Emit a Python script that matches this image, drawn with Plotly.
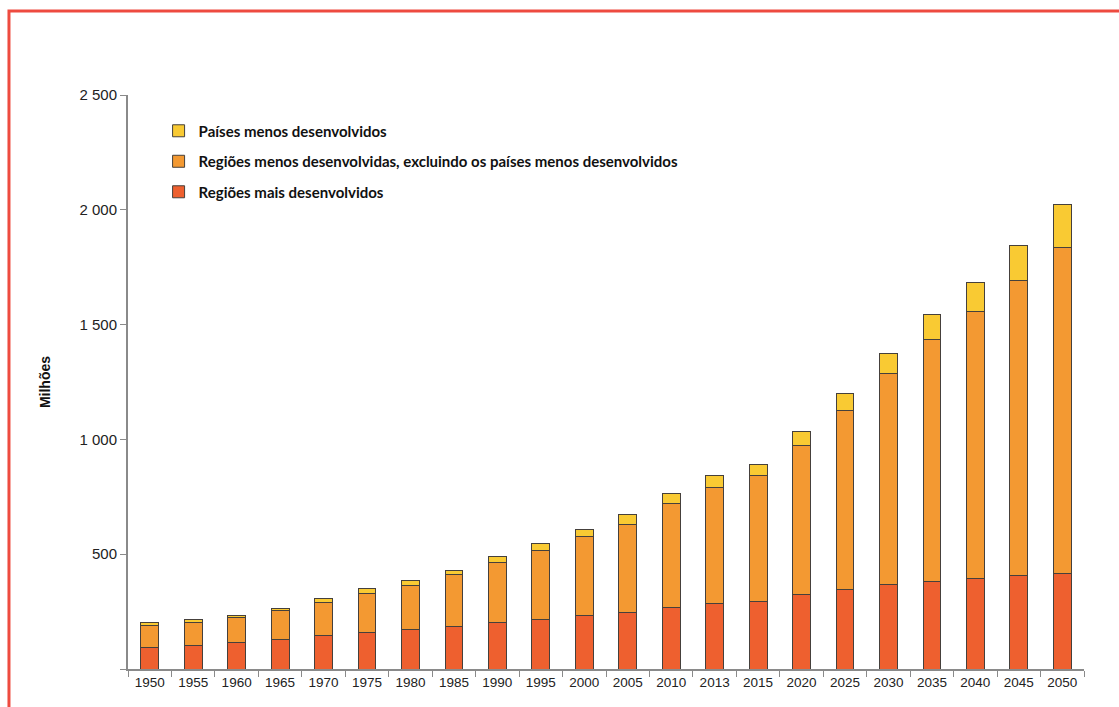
import plotly.graph_objects as go

anos = ["1950", "1955", "1960", "1965", "1970", "1975", "1980", "1985", "1990", "1995",
        "2000", "2005", "2010", "2013", "2015", "2020", "2025", "2030", "2035", "2040",
        "2045", "2050"]

regioes_mais = [93, 103, 115, 128, 144, 161, 170, 184, 202, 216,
                232, 245, 269, 285, 296, 325, 347, 367, 383, 396,
                409, 418]
regioes_menos_excl = [98, 99, 108, 126, 145, 167, 194, 226, 260, 298,
                      343, 386, 451, 507, 548, 649, 780, 921, 1054, 1163,
                      1282, 1417]
paises_menos = [10, 13, 12, 10, 16, 22, 21, 20, 29, 32,
                33, 40, 44, 49, 48, 60, 73, 88, 105, 125,
                153, 187]

series_nomes = ["Regiões mais desenvolvidos",
                "Regiões menos desenvolvidas, excluindo os países menos desenvolvidos",
                "Países menos desenvolvidos"]
series_valores = [regioes_mais, regioes_menos_excl, paises_menos]
series_cores = ["#EE602F", "#F39932", "#F9CA33"]
legend_ranks = [3, 2, 1]

y_ticks = [0, 500, 1000, 1500, 2000, 2500]
y_ticktext = ["", "500", "1 000", "1 500", "2 000", "2 500"]

fig = go.Figure()
for nome, vals, cor, rank in zip(series_nomes, series_valores, series_cores, legend_ranks):
    fig.add_trace(go.Bar(
        x=anos, y=vals, name=nome, legendgroup=nome, legendrank=rank,
        marker=dict(color=cor, line=dict(color="#45403c", width=1)),
    ))

fig.update_layout(
    width=1119, height=707,
    barmode="stack", bargap=0.59,
    plot_bgcolor="white", paper_bgcolor="white",
    margin=dict(l=128, r=35, t=95, b=38),
    font=dict(family="Arial, Liberation Sans, sans-serif", size=14, color="#222"),
    showlegend=True,
    legend=dict(
        x=0.032, y=0.966, xanchor="left", yanchor="top",
        traceorder="grouped", tracegroupgap=8,
        font=dict(family="Lato, sans-serif", size=15, color="#111", weight="bold"),
        bgcolor="rgba(0,0,0,0)", itemwidth=30,
    ),
    xaxis=dict(
        type="category", showline=True, linecolor="#8a8a8a", linewidth=2,
        ticks="outside", tickson="boundaries", ticklen=6, tickcolor="#8a8a8a",
        tickfont=dict(family="Arial, Liberation Sans, sans-serif", size=13.5, color="#222"),
        showgrid=False,
    ),
    yaxis=dict(
        range=[0, 2500], showline=True, linecolor="#8a8a8a", linewidth=2,
        tickvals=y_ticks, ticktext=y_ticktext,
        ticks="outside", ticklen=6, tickcolor="#8a8a8a",
        tickfont=dict(family="Arial, Liberation Sans, sans-serif", size=15, color="#222"),
        showgrid=False, zeroline=False,
        title=dict(text="<b>Milhões</b>", standoff=26,
                   font=dict(size=14, color="#111")),
    ),
    shapes=[dict(type="rect", xref="paper", yref="paper",
                 x0=-0.1245, y0=-0.08, x1=1.045, y1=1.1463,
                 line=dict(color="#EE4B40", width=3), layer="above")],
)

fig.write_html("out.html")
